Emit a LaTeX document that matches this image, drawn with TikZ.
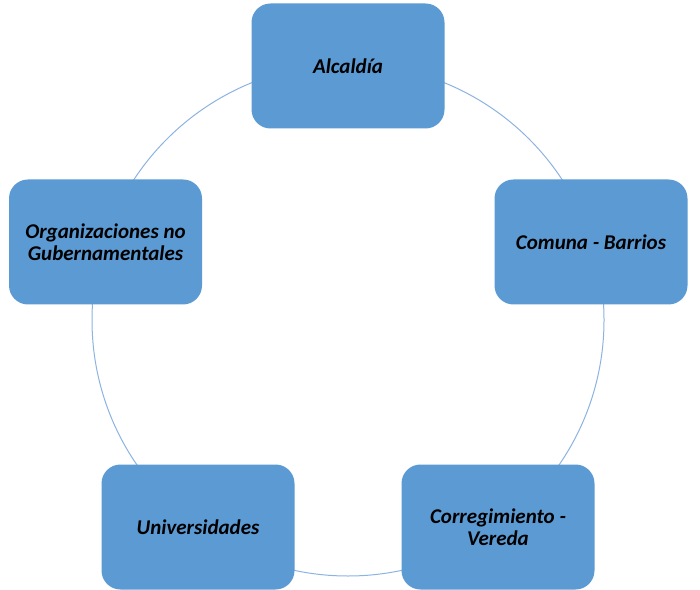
\documentclass[tikz,border=0pt]{standalone}
\usepackage{fontspec}
\setmainfont{Carlito}
\begin{document}
\begin{tikzpicture}[x=1pt,y=1pt,
  box/.style={draw=none, fill=boxblue, rounded corners=19pt, minimum width=193pt, minimum height=125pt, align=center, font=\fontsize{21}{22.5}\selectfont\bfseries\itshape, text=black, inner sep=0pt}]
\definecolor{boxblue}{HTML}{5B9AD3}
\definecolor{ringblue}{HTML}{8DB3E2}
\useasboundingbox[fill=white] (0,0) rectangle (700,589);
\coordinate (c) at (348,269);
\draw[ringblue, line width=1pt] (c) circle (256pt);
\node[box] (alc) at (348,523) {Alcaldía};
\node[box] (com) at (591,347) {Comuna - Barrios};
\node[box] (cor) at (498,62) {Corregimiento -\\Vereda};
\node[box] (uni) at (198,62) {Universidades};
\node[box] (org) at (105.5,347) {Organizaciones no\\Gubernamentales};
\end{tikzpicture}
\end{document}
